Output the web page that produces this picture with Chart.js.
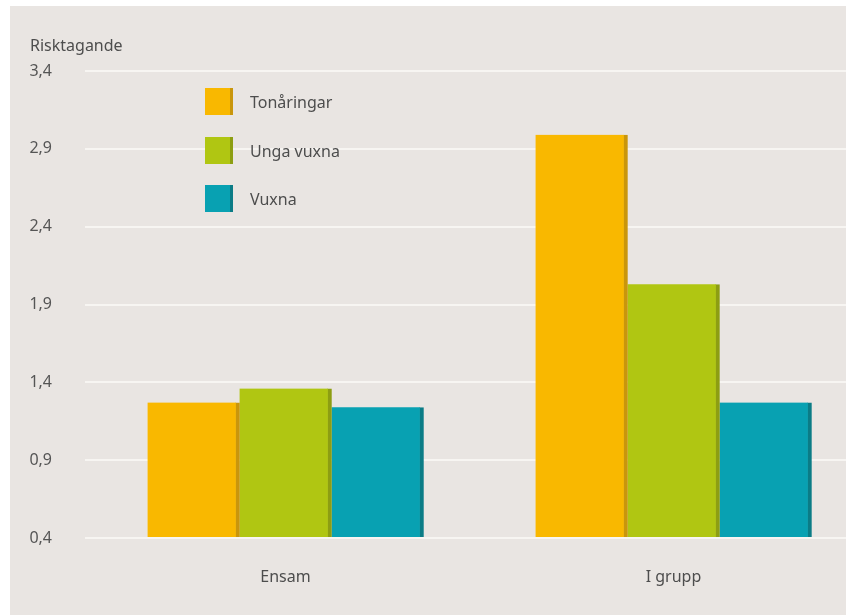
<!DOCTYPE html>
<html>
<head>
<meta charset="utf-8">
<script src="https://cdn.jsdelivr.net/npm/chart.js@4.4.0/dist/chart.umd.min.js"></script>
<style>
html,body{margin:0;padding:0;background:#ffffff;width:846px;height:615px;overflow:hidden;}
#wrap{position:absolute;left:10px;top:6px;width:836px;height:609px;background:#e9e5e2;}
#c{position:absolute;left:0;top:0;}
#title{position:absolute;left:20px;top:29px;font:16px 'Noto Sans',sans-serif;line-height:20px;color:#4d4d4d;}
.leg{position:absolute;left:195px;height:27px;display:flex;align-items:center;font:16px 'Noto Sans',sans-serif;color:#4d4d4d;}
.leg .sw{display:inline-block;width:28px;height:27px;margin-right:17px;box-sizing:border-box;}
</style>
</head>
<body>
<div id="wrap">
  <canvas id="c" width="836" height="609"></canvas>
  <div id="title">Risktagande</div>
  <div id="legend"></div>
</div>
<script>
// ---- data ----
const categories = ['Ensam', 'I grupp'];
const seriesNames = ['Tonåringar', 'Unga vuxna', 'Vuxna'];
const tonaringar = [1.27, 2.99];
const ungaVuxna = [1.36, 2.03];
const vuxna = [1.24, 1.27];
const yTicks = [0.4, 0.9, 1.4, 1.9, 2.4, 2.9, 3.4];

// ---- styles ----
const fillColors = ['#f9b800', '#b0c612', '#08a1b2'];
const edgeColors = ['#c9960c', '#8d9e12', '#0b7c86'];
const seriesValues = [tonaringar, ungaVuxna, vuxna];

// legend (HTML)
const legendTops = [82, 131, 179];
const legendEl = document.getElementById('legend');
seriesNames.forEach((name, i) => {
  const row = document.createElement('div');
  row.className = 'leg';
  row.style.top = legendTops[i] + 'px';
  const sw = document.createElement('span');
  sw.className = 'sw';
  sw.style.background = fillColors[i];
  sw.style.borderRight = '3px solid ' + edgeColors[i];
  const tx = document.createElement('span');
  tx.textContent = name;
  row.appendChild(sw);
  row.appendChild(tx);
  legendEl.appendChild(row);
});

const datasets = seriesValues.map((vals, i) => ({
  label: seriesNames[i],
  data: vals.map((v, k) => ({x: k, y: v})),
  backgroundColor: fillColors[i],
  borderColor: edgeColors[i],
  borderWidth: {top: 0, left: 0, bottom: 0, right: 4},
  borderSkipped: false,
  base: yTicks[0],
  barThickness: 92
}));

const fmt = v => v.toFixed(1).replace('.', ',');

new Chart(document.getElementById('c'), {
  type: 'bar',
  data: { datasets },
  options: {
    responsive: false,
    animation: false,
    layout: { padding: { left: 0, right: 0, top: 65, bottom: 0 } },
    plugins: { legend: { display: false }, tooltip: { enabled: false }, title: { display: false } },
    scales: {
      x: {
        type: 'linear',
        offset: false,
        min: -0.5168,
        max: 1.4446,
        grid: { display: false, drawTicks: false },
        border: { display: false },
        afterFit: s => { s.height = 77; s.paddingLeft = 0; s.paddingRight = 0; },
        ticks: {
          stepSize: 1,
          autoSkip: false,
          maxRotation: 0,
          padding: 30,
          color: '#4d4d4d',
          font: { family: 'Noto Sans', size: 16 },
          callback: v => Number.isInteger(v) && categories[v] !== undefined ? categories[v] : ''
        }
      },
      y: {
        min: yTicks[0],
        max: yTicks[yTicks.length - 1],
        afterFit: s => { s.width = 75; },
        afterBuildTicks: s => { s.ticks = yTicks.map(v => ({value: v})); },
        grid: { color: '#f7f5f2', lineWidth: 2, drawTicks: false },
        border: { display: false },
        ticks: {
          padding: 33,
          color: '#555555',
          font: { family: 'Noto Sans', size: 16 },
          callback: v => fmt(v)
        }
      }
    }
  }
});
</script>
</body>
</html>
